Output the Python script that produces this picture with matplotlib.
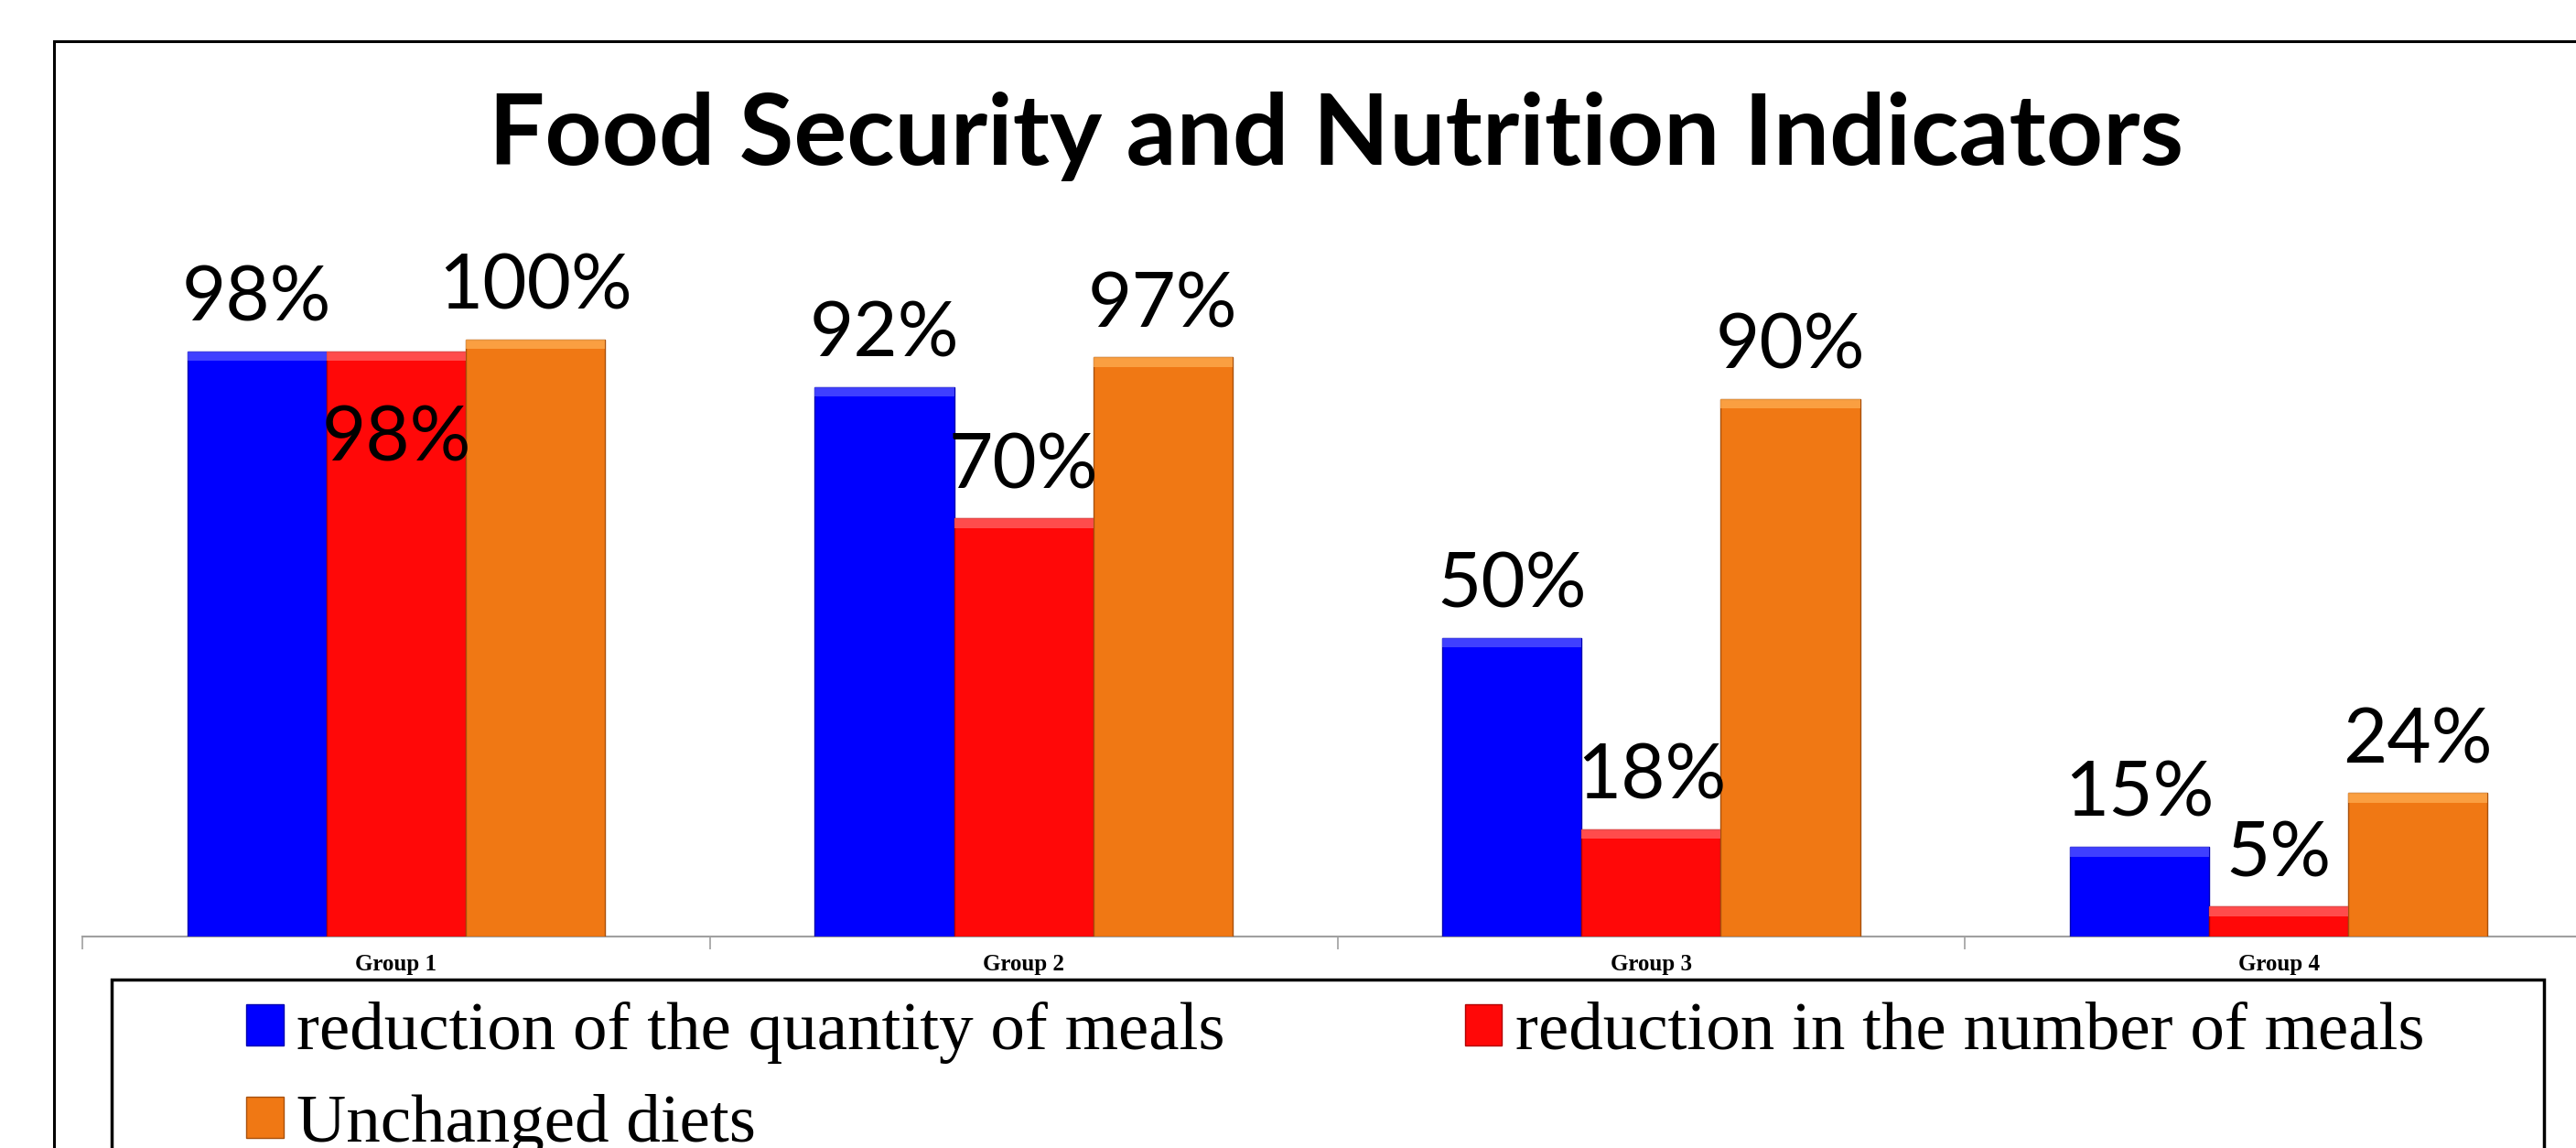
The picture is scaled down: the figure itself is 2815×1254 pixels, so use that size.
import numpy as np
import matplotlib
matplotlib.use("Agg")
import matplotlib.pyplot as plt
from matplotlib.patches import Rectangle

groups = ["Group 1", "Group 2", "Group 3", "Group 4"]
series_names = ["reduction of the quantity of meals",
                "reduction in the number of meals",
                "Unchanged diets"]
quantity = [98, 92, 50, 15]
number = [98, 70, 18, 5]
unchanged = [100, 97, 90, 24]

colors = ["#0000FF", "#FF0808", "#F07814"]
edges = ["#0000B0", "#B00000", "#A8500C"]
highlights = ["#5A5AFF", "#FF6A6A", "#FFB055"]

W, H = 2815, 1254
fig = plt.figure(figsize=(W / 100, H / 100), dpi=100)

# outer chart border (only top and left edges are inside the picture)
fig.patches.append(Rectangle((59 / W, -0.2), 1.2, 1 - 45 / H + 0.2, transform=fig.transFigure,
                             fill=False, edgecolor="black", lw=2.2))

ax = fig.add_axes([90 / W, 231 / H, 2743 / W, 750 / H])
ax.set_xlim(-0.5, 3.5)
ax.set_ylim(0, 115)

x = np.arange(len(groups))
w = 0.222
values = [quantity, number, unchanged]
handles = []
for j, vals in enumerate(values):
    bars = ax.bar(x + (j - 1) * w, vals, w, color=colors[j], edgecolor=edges[j],
                  linewidth=1.0, label=series_names[j], zorder=3)
    handles.append(bars)
    for b in bars:
        # light bevel strip on top of each bar
        ax.add_patch(Rectangle((b.get_x(), b.get_height() - 1.6), b.get_width(), 1.6,
                               color=highlights[j], alpha=0.7, lw=0, zorder=4))
    for i, (b, v) in enumerate(zip(bars, vals)):
        dy = 24
        if j == 1 and i == 0:
            dy = -86  # Excel pushed this one inside the bar
        ax.annotate(f"{v}%", (b.get_x() + b.get_width() / 2, v), xytext=(0, dy),
                    textcoords="offset points", ha="center", va="baseline",
                    fontsize=60, family="Lato", zorder=5)

for s in ["top", "right", "left"]:
    ax.spines[s].set_visible(False)
ax.spines["bottom"].set_color("#A0A0A0")
ax.spines["bottom"].set_linewidth(1.5)
ax.set_yticks([])
ax.set_xticks(np.arange(-0.5, 4.0, 1.0))
ax.set_xticklabels([])
ax.tick_params(axis="x", which="major", length=10, width=1.2, color="#A0A0A0")
ax.set_xticks(x, minor=True)
ax.set_xticklabels(groups, minor=True, fontsize=18, fontweight="bold", family="Liberation Serif")
ax.tick_params(axis="x", which="minor", length=0, pad=14)

fig.text(1460 / W, 1 - 180 / H, "Food Security and Nutrition Indicators", ha="center",
         va="baseline", fontsize=78, fontweight="bold", family="Lato")

# legend frame
fig.patches.append(Rectangle((122 / W, -0.2), (2780 - 122) / W, 1 - 1070 / H + 0.2,
                             transform=fig.transFigure, fill=False, edgecolor="black", lw=2.5))
# legend fills by column, so reorder to get row-wise entries
order = [0, 2, 1]
fig.legend([handles[k] for k in order], [series_names[k] for k in order],
           loc="upper left", bbox_to_anchor=(269 / W, 1 - 1094 / H), ncol=2, frameon=False,
           prop={"family": "Liberation Serif", "size": 54}, handlelength=0.54,
           handleheight=0.54, handletextpad=0.19, columnspacing=3.5, labelspacing=0.44,
           borderpad=0, borderaxespad=0)

fig.savefig("out.png", dpi=100)
